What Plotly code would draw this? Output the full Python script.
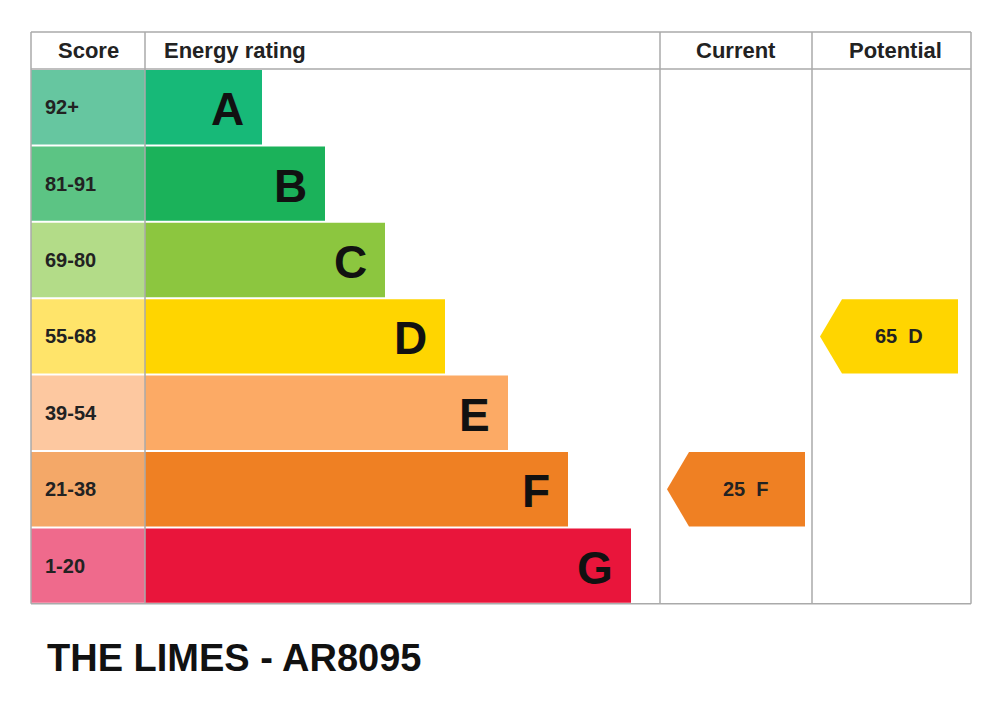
import plotly.graph_objects as go

bands = ["A", "B", "C", "D", "E", "F", "G"]
score_ranges = ["92+", "81-91", "69-80", "55-68", "39-54", "21-38", "1-20"]
bar_ends = [262, 325, 385, 445, 508, 568, 631]
bar_colors = ["#17b978", "#1bb25a", "#8cc63f", "#ffd500", "#fcaa65", "#ef8023", "#e9153b"]
score_colors = ["#66c6a0", "#5cc484", "#b3dc88", "#ffe46a", "#fdc8a0", "#f4a868", "#ef6a8c"]
current = (25, "F")
potential = (65, "D")
title = "THE LIMES - AR8095"

L, R, TOP, HB = 31, 971, 32, 69
SC, CUR, POT = 145, 660, 812
ROW_H = 76.4
centers = [HB + ROW_H * (i + 0.5) for i in range(7)]
BOT = HB + ROW_H * 7

fig = go.Figure()
FONT = "Liberation Sans, Arial"
fig.add_trace(go.Bar(orientation="h", y=centers, x=[SC - L] * 7, base=L, width=ROW_H - 2,
                     marker=dict(color=score_colors, line=dict(width=0)), hoverinfo="skip"))
fig.add_trace(go.Bar(orientation="h", y=centers, x=[e - SC for e in bar_ends], base=SC, width=ROW_H - 2,
                     marker=dict(color=bar_colors, line=dict(width=0)), hoverinfo="skip"))

for i in range(7):
    fig.add_annotation(x=L + 12, y=centers[i], text="<b>%s</b>" % score_ranges[i], showarrow=False,
                       xanchor="left", font=dict(family=FONT, size=20, color="#222"))
    fig.add_annotation(x=bar_ends[i] - 16, y=centers[i] + 2, text="<b>%s</b>" % bands[i], showarrow=False,
                       xanchor="right", font=dict(family=FONT, size=46, color="#111"))

def arrow(x0, x1, band, val, color):
    i = bands.index(band)
    c = centers[i]
    h = ROW_H / 2 - 1
    xs = [x0, x0 + 22, x1, x1, x0 + 22, x0]
    ys = [c, c - h, c - h, c + h, c + h, c]
    fig.add_trace(go.Scatter(x=xs, y=ys, fill="toself", fillcolor=color, mode="lines",
                             line=dict(width=0), hoverinfo="skip"))
    fig.add_annotation(x=(x0 + x1) / 2 + 10, y=c, text="<b>%d  %s</b>" % (val, band), showarrow=False,
                       font=dict(family=FONT, size=20, color="#222"))

arrow(667, 805, current[1], current[0], bar_colors[bands.index(current[1])])
arrow(820, 958, potential[1], potential[0], bar_colors[bands.index(potential[1])])

grid = "#aaaaaa"
for x in [L, SC, CUR, POT, R]:
    fig.add_shape(type="line", x0=x, x1=x, y0=TOP, y1=BOT, line=dict(color=grid, width=1.5))
for y in [TOP, HB, BOT]:
    fig.add_shape(type="line", x0=L, x1=R, y0=y, y1=y, line=dict(color=grid, width=1.5))

for x, t, anc in [(88, "Score", "center"), (162, "Energy rating", "left"),
                  (736, "Current", "center"), (895, "Potential", "center")]:
    fig.add_annotation(x=x, y=(TOP + HB) / 2, text="<b>%s</b>" % t, showarrow=False, xanchor=anc,
                       font=dict(family=FONT, size=22, color="#222"))

fig.add_annotation(x=45, y=658, text="<b>%s</b>" % title, showarrow=False, xanchor="left",
                   font=dict(family=FONT, size=38, color="#111"))

fig.update_layout(width=1000, height=707, margin=dict(l=0, r=0, t=0, b=0), showlegend=False,
                  plot_bgcolor="white", paper_bgcolor="white", barmode="overlay",
                  xaxis=dict(range=[8, 1008], visible=False, fixedrange=True),
                  yaxis=dict(range=[715, 8], visible=False, fixedrange=True))
fig.write_html("out.html")
